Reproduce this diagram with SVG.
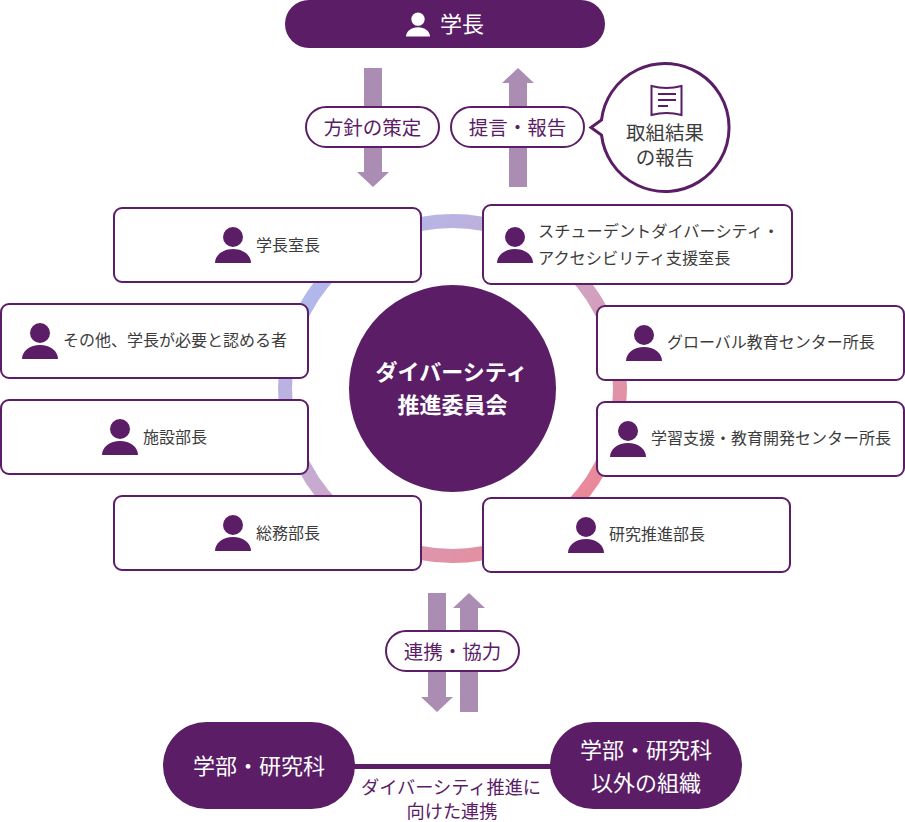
<svg xmlns="http://www.w3.org/2000/svg" width="905" height="822" viewBox="0 0 905 822">
<style>
text{font-family:"Noto Sans CJK JP","Noto Sans",sans-serif;text-anchor:middle}
.box{fill:#fff;stroke:#5a1d66;stroke-width:2}
.dk{fill:#5a1d66}
.ar{fill:#ab8cb3}
.t{font-size:16px;fill:#3c3c3c;text-anchor:start}
.p{font-size:19.500px;fill:#5a1d66}
</style>
<defs>
<linearGradient id="ringG" gradientUnits="userSpaceOnUse" x1="320" y1="256" x2="585" y2="521">
<stop offset="0" stop-color="#aebaf0"/><stop offset=".5" stop-color="#cda6c8"/><stop offset="1" stop-color="#ec8694"/>
</linearGradient>
<symbol id="person" viewBox="0 0 36 36" overflow="visible">
<circle cx="18" cy="10" r="10"/><path d="M0 36C0 28 8 22 18 22S36 28 36 36Z"/>
</symbol>
</defs>
<g id="connectors">
<circle cx="452.500" cy="388.500" r="167.500" fill="none" stroke="url(#ringG)" stroke-width="14"/>
<path class="ar" d="M364 68H382V172H389L373 187L357 172H364Z"/>
<path class="ar" d="M509 187V83H502L518 68L534 83H527V187Z"/>
<path class="ar" d="M428 593H446V697H453L437 712L421 697H428Z"/>
<path class="ar" d="M460 712V608H453L469 593L485 608H478V712Z"/>
<rect class="dk" x="350" y="764" width="205" height="5"/>
</g>
<g id="president">
<rect class="dk" x="285" y="0" width="320" height="48" rx="24"/>
<use href="#person" x="406" y="12.500" width="24" height="24" fill="#fff"/>
<text x="462" y="32" font-size="22" fill="#fff">学長</text>
</g>
<g id="label-policy"><rect class="box" x="306" y="107" width="133" height="40" rx="20"/><text class="p" x="372.500" y="134.500">方針の策定</text></g>
<g id="label-report"><rect class="box" x="451" y="107" width="133" height="40" rx="20"/><text class="p" x="517.500" y="134.500">提言・報告</text></g>
<g id="bubble">
<path fill="#fff" stroke="#5a1d66" stroke-width="3" d="M601.500 120A64 64 0 1 1 601.500 135L591 127.500Z"/>
<path fill="none" stroke="#5a1d66" stroke-width="2" d="M651.500 86Q666.500 90 681.500 86V115Q666.500 111 651.500 115Z"/>
<path fill="none" stroke="#5a1d66" stroke-width="2" d="M658 94H676M658 100H676M658 106H668"/>
<text font-size="19.500" fill="#3c3c3c"><tspan x="665" y="140">取組結果</tspan><tspan x="665" y="165">の報告</tspan></text>
</g>
<g id="center">
<circle class="dk" cx="452.500" cy="388.500" r="103.500"/>
<text x="451.500" y="379.500" font-size="22" font-weight="700" fill="#fff">ダイバーシティ</text>
<text x="452.500" y="412.500" font-size="22" font-weight="700" fill="#fff">推進委員会</text>
</g>
<g id="n-office"><rect class="box" x="114" y="208" width="307" height="74" rx="8"/><use href="#person" x="215" y="227" width="36" height="36" fill="#5a1d66"/><text class="t" x="256" y="251">学長室長</text></g>
<g id="n-student"><rect class="box" x="483" y="205" width="309" height="79" rx="8"/><use href="#person" x="497" y="227" width="36" height="36" fill="#5a1d66"/><text class="t" x="538" y="237" style="font-size:16.200px">スチューデントダイバーシティ・</text><text class="t" x="538" y="264" style="font-size:16.200px">アクセシビリティ支援室長</text></g>
<g id="n-other"><rect class="box" x="1" y="304" width="307" height="74" rx="8"/><use href="#person" x="22" y="323" width="36" height="36" fill="#5a1d66"/><text class="t" x="63" y="346">その他、学長が必要と認める者</text></g>
<g id="n-facility"><rect class="box" x="1" y="400" width="307" height="74" rx="8"/><use href="#person" x="102" y="419" width="36" height="36" fill="#5a1d66"/><text class="t" x="143" y="443">施設部長</text></g>
<g id="n-general"><rect class="box" x="114" y="496" width="307" height="74" rx="8"/><use href="#person" x="215" y="515" width="36" height="36" fill="#5a1d66"/><text class="t" x="256" y="539">総務部長</text></g>
<g id="n-global"><rect class="box" x="597" y="306" width="307" height="74" rx="8"/><use href="#person" x="626" y="325" width="36" height="36" fill="#5a1d66"/><text class="t" x="667" y="348">グローバル教育センター所長</text></g>
<g id="n-learning"><rect class="box" x="597" y="402" width="307" height="74" rx="8"/><use href="#person" x="610" y="421" width="36" height="36" fill="#5a1d66"/><text class="t" x="651" y="444">学習支援・教育開発センター所長</text></g>
<g id="n-research"><rect class="box" x="483" y="498" width="307" height="74" rx="8"/><use href="#person" x="568" y="517" width="36" height="36" fill="#5a1d66"/><text class="t" x="609" y="540">研究推進部長</text></g>
<g id="label-collab"><rect class="box" x="386" y="631" width="133" height="40" rx="20"/><text class="p" x="452.500" y="659">連携・協力</text></g>
<g id="faculty"><rect class="dk" x="163" y="722" width="192" height="87" rx="43.500"/><text x="259" y="774" font-size="22" fill="#fff">学部・研究科</text></g>
<g id="others"><rect class="dk" x="550" y="722" width="192" height="87" rx="43.500"/><text x="646" y="758" font-size="22" fill="#fff">学部・研究科</text><text x="646" y="791" font-size="22" fill="#fff">以外の組織</text></g>
<g id="link-label"><text x="451" y="794" font-size="18.200" fill="#5a1d66">ダイバーシティ推進に</text><text x="452" y="818" font-size="18.200" fill="#5a1d66">向けた連携</text></g>
</svg>
